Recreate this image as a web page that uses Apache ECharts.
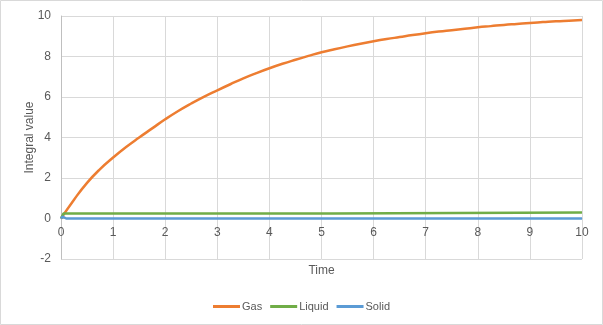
<!DOCTYPE html>
<html>
<head>
<meta charset="utf-8">
<script src="https://cdn.jsdelivr.net/npm/echarts@6/dist/echarts.min.js"></script>
<style>html,body{margin:0;padding:0;background:#fff}#c{width:603px;height:325px}</style>
</head>
<body>
<div id="c"></div>
<script>
var gasT = [0,0.25,0.5,0.75,1,1.25,1.5,1.75,2,2.25,2.5,2.75,3,3.25,3.5,3.75,4,4.25,4.5,4.75,5,5.25,5.5,5.75,6,6.25,6.5,6.75,7,7.25,7.5,7.75,8,8.25,8.5,8.75,9,9.25,9.5,9.75,10];
var gasV = [0,0.93,1.76,2.44,3.01,3.53,4.0,4.45,4.9,5.31,5.68,6.02,6.33,6.63,6.92,7.18,7.42,7.64,7.84,8.03,8.21,8.36,8.5,8.63,8.75,8.86,8.96,9.06,9.15,9.23,9.3,9.37,9.44,9.5,9.56,9.61,9.66,9.7,9.74,9.77,9.8];
var liquidT = [0,0.05,5.2,5.22,10];
var liquidV = [0,0.25,0.25,0.3,0.3];
var solidT = [0,0.03,0.1,10];
var solidV = [0,0.1,0,0];
var seriesNames = ['Gas','Liquid','Solid'];
var colors = ['#ED7D31','#70AD47','#5B9BD5'];

function pairs(t,v){return t.map(function(x,i){return [x,v[i]];});}
var font = 'Liberation Sans';
var chart = echarts.init(document.getElementById('c'));
chart.setOption({
  animation:false,
  textStyle:{fontFamily:font},
  graphic:[{type:'rect',shape:{x:0.5,y:0.5,width:602,height:324},style:{fill:'none',stroke:'#d9d9d9',lineWidth:1},silent:true}],
  grid:{left:61,right:21,top:16,bottom:66},
  legend:{data:seriesNames,bottom:8,left:'center',icon:'rect',itemWidth:27,itemHeight:3,itemGap:8,
    textStyle:{color:'#595959',fontSize:11,fontFamily:font,padding:[0,0,0,-3]}},
  xAxis:{type:'value',min:0,max:10,interval:1,name:'Time',nameLocation:'middle',nameGap:46,nameMoveOverlap:false,
    offset:-40.5,
    nameTextStyle:{color:'#595959',fontSize:12,fontFamily:font},
    axisLine:{onZero:false,lineStyle:{color:'#bfbfbf'}},axisTick:{show:false},
    axisLabel:{color:'#595959',fontSize:12,margin:8,fontFamily:font},
    splitLine:{show:true,lineStyle:{color:'#d9d9d9'}}},
  yAxis:{type:'value',min:-2,max:10,interval:2,name:'Integral value',nameLocation:'middle',nameGap:25,nameRotate:90,nameMoveOverlap:false,
    nameTextStyle:{color:'#595959',fontSize:12,fontFamily:font},
    axisLine:{show:true,onZero:false,lineStyle:{color:'#bfbfbf'}},axisTick:{show:false},
    axisLabel:{color:'#595959',fontSize:12,margin:10,fontFamily:font},
    splitLine:{show:true,lineStyle:{color:'#d9d9d9'}}},
  series:[
    {name:'Gas',type:'line',data:pairs(gasT,gasV),showSymbol:false,symbol:'none',smooth:0.5,lineStyle:{width:2.5,color:colors[0]},itemStyle:{color:colors[0]}},
    {name:'Liquid',type:'line',data:pairs(liquidT,liquidV),showSymbol:false,symbol:'none',lineStyle:{width:2.5,color:colors[1]},itemStyle:{color:colors[1]}},
    {name:'Solid',type:'line',data:pairs(solidT,solidV),showSymbol:false,symbol:'none',lineStyle:{width:2.5,color:colors[2]},itemStyle:{color:colors[2]}}
  ]
});
</script>
</body>
</html>
